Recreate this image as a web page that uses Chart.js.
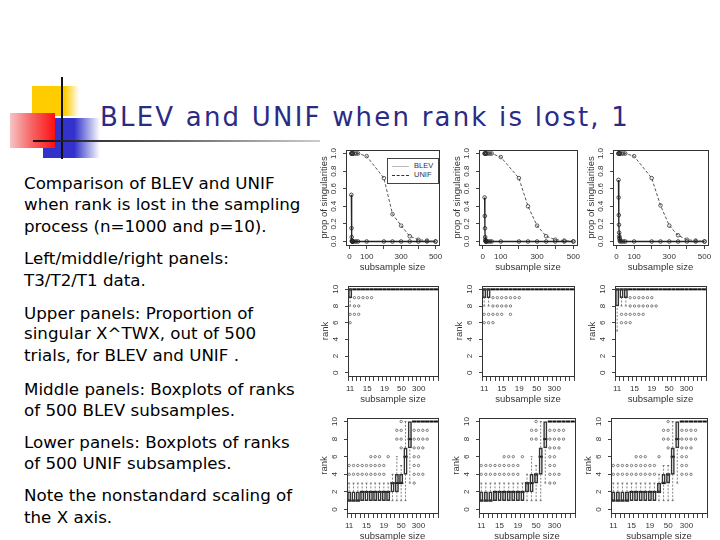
<!DOCTYPE html>
<html>
<head>
<meta charset="utf-8">
<script src="https://cdn.jsdelivr.net/npm/chart.js@4.4.0/dist/chart.umd.min.js"></script>
<style>
  body { margin:0; width:720px; height:540px; background:#fff; position:relative; overflow:hidden; font-family:"DejaVu Sans", sans-serif; }
  .deco { position:absolute; }
  .ttl { position:absolute; left:100px; top:102px; font-size:26px; line-height:30px; letter-spacing:2.2px; color:#2b2b84; white-space:nowrap; }
  .txt { position:absolute; left:24px; font-size:16.7px; line-height:20px; color:#000; white-space:nowrap; }
  .lgd { position:absolute; left:387px; top:158px; width:50px; height:24px; border:1px solid #444; background:#fff; font:7.5px "Liberation Sans", sans-serif; color:#333; }
  .lgd div { position:absolute; left:26px; }
  .lgd span { position:absolute; left:4px; width:17px; height:0; }
</style>
</head>
<body>

<div class="deco" style="left:32px;top:86px;width:47px;height:30px;background:linear-gradient(to right,#ffcc00 0%,#ffcc00 70%,rgba(255,204,0,0) 100%)"></div>
<div class="deco" style="left:43px;top:118px;width:57px;height:40px;background:linear-gradient(to right,#3333cc 0%,#3333cc 55%,rgba(51,51,204,0) 100%)"></div>
<div class="deco" style="left:10px;top:113px;width:45px;height:35px;background:linear-gradient(to right,#f7c4c4 0%,#f56a6a 45%,#ff1010 100%)"></div>
<div class="deco" style="left:61px;top:77px;width:2px;height:82px;background:#111"></div>
<div class="deco" style="left:33px;top:140px;width:287px;height:2px;background:linear-gradient(to right,#111 0%,#555 40%,#ccc 100%)"></div>

<div class="ttl">BLEV and UNIF when rank is lost, 1</div>

<div class="txt" style="top:173px">Comparison of BLEV and UNIF</div>
<div class="txt" style="top:194px">when rank is lost in the sampling</div>
<div class="txt" style="top:216px">process (n=1000 and p=10).</div>
<div class="txt" style="top:248px">Left/middle/right panels:</div>
<div class="txt" style="top:270px">T3/T2/T1 data.</div>
<div class="txt" style="top:303px">Upper panels: Proportion of</div>
<div class="txt" style="top:323px">singular X^TWX, out of 500</div>
<div class="txt" style="top:345px">trials, for BLEV and UNIF .</div>
<div class="txt" style="top:379px">Middle panels: Boxplots of ranks</div>
<div class="txt" style="top:400px">of 500 BLEV subsamples.</div>
<div class="txt" style="top:432px">Lower panels: Boxplots of ranks</div>
<div class="txt" style="top:453px">of 500 UNIF subsamples.</div>
<div class="txt" style="top:485px">Note the nonstandard scaling of</div>
<div class="txt" style="top:507px">the X axis.</div>

<div class="lgd">
  <span style="top:7px;border-top:1px solid #bbb"></span><div style="top:2px">BLEV</div>
  <span style="top:16px;border-top:1px dashed #333"></span><div style="top:11px">UNIF</div>
</div>

<script>
// subsample sizes (x axis of every panel)
const sizes = [11,12,13,14,15,16,17,18,19,20,30,40,50,100,200,250,300,350,400,450,500];
const sizeLabels = ['11','15','19','50','300'];      // labels R kept on the boxplot axes
const sizeTicks = [0,100,200,300,400,500];
const sizeTickLabels = ['0','100','300','500'];
const propTicks = [0,0.2,0.4,0.6,0.8,1];
const rankTicks = [0,2,4,6,8,10];

// upper panels: proportion of singular X^TWX
const blevT3Prop = [0.53,0.15,0.05,0.01,0,0,0,0,0,0,0,0,0,0,0,0,0,0,0,0,0];
const unifT3Prop = [1,1,1,1,1,1,1,1,1,1,1,1,1,0.97,0.72,0.31,0.18,0.06,0.02,0.01,0];
const blevT2Prop = [0.5,0.29,0.15,0.05,0.02,0.01,0,0,0,0,0,0,0,0,0,0,0,0,0,0,0];
const unifT2Prop = [1,1,1,1,1,1,1,1,1,1,1,1,1,0.96,0.72,0.4,0.18,0.06,0.02,0.01,0];
const blevT1Prop = [0.7,0.5,0.3,0.19,0.1,0.06,0.04,0.03,0.01,0,0,0,0,0,0,0,0,0,0,0,0];
const unifT1Prop = [1,1,1,1,1,1,1,1,1,1,1,1,1,0.97,0.72,0.41,0.18,0.07,0.02,0.01,0];

// middle panels: ranks of BLEV subsamples (box stats per size)
const blevT3Q1  = [9,10,10,10,10,10,10,10,10,10,10,10,10,10,10,10,10,10,10,10,10];
const blevT3Med = [10,10,10,10,10,10,10,10,10,10,10,10,10,10,10,10,10,10,10,10,10];
const blevT3Q3  = [10,10,10,10,10,10,10,10,10,10,10,10,10,10,10,10,10,10,10,10,10];
const blevT3Lo  = [8,10,10,10,10,10,10,10,10,10,10,10,10,10,10,10,10,10,10,10,10];
const blevT3Hi  = [10,10,10,10,10,10,10,10,10,10,10,10,10,10,10,10,10,10,10,10,10];
const blevT3Out = [[9,[1,2,3,4,5]],[8,[1,2]],[7,[0,1,2]],[6,[0]]];

const blevT2Q1  = [9,9,10,10,10,10,10,10,10,10,10,10,10,10,10,10,10,10,10,10,10];
const blevT2Med = [10,10,10,10,10,10,10,10,10,10,10,10,10,10,10,10,10,10,10,10,10];
const blevT2Q3  = [10,10,10,10,10,10,10,10,10,10,10,10,10,10,10,10,10,10,10,10,10];
const blevT2Lo  = [8,8,10,10,10,10,10,10,10,10,10,10,10,10,10,10,10,10,10,10,10];
const blevT2Hi  = [10,10,10,10,10,10,10,10,10,10,10,10,10,10,10,10,10,10,10,10,10];
const blevT2Out = [[9,[2,3,4,5,6,7,8]],[8,[2,3,4,5,6]],[7,[0,1,2,3,4,6]],[6,[0,1,2]]];

const blevT1Q1  = [8,9,9,10,10,10,10,10,10,10,10,10,10,10,10,10,10,10,10,10,10];
const blevT1Med = [10,10,10,10,10,10,10,10,10,10,10,10,10,10,10,10,10,10,10,10,10];
const blevT1Q3  = [10,10,10,10,10,10,10,10,10,10,10,10,10,10,10,10,10,10,10,10,10];
const blevT1Lo  = [5,8,8,10,10,10,10,10,10,10,10,10,10,10,10,10,10,10,10,10,10];
const blevT1Hi  = [10,10,10,10,10,10,10,10,10,10,10,10,10,10,10,10,10,10,10,10,10];
const blevT1Out = [[9,[3,4,5,6,7,8]],[8,[3,4,5,6,7,8,9]],[7,[1,2,3,4,5,6]],[6,[1,2,3]]];

// lower panels: ranks of UNIF subsamples
const unifT3Q1  = [1,1,1,1,1,1,1,1,1,1,2,2,3,4,7,10,10,10,10,10,10];
const unifT3Med = [1,1,1,2,2,2,2,2,2,2,3,3,3,6,8,10,10,10,10,10,10];
const unifT3Q3  = [2,2,2,2,2,2,2,2,2,2,3,4,4,7,10,10,10,10,10,10,10];
const unifT3Lo  = [1,1,1,1,1,1,1,1,1,1,1,1,1,1,3,10,10,10,10,10,10];
const unifT3Hi  = [3,3,3,3,3,3,3,3,3,3,4,6,5,10,10,10,10,10,10,10,10];
const unifT3Out = [[10,[12]],[9,[11,12,15,16,17,18]],[8,[11,12,15,16,17,18]],[7,[12,15,16,17]],
                   [6,[5,6,7,9,15,16]],[5,[0,1,2,3,4,5,6,7,8,15,16]],[4,[0,1,2,3,4,5,6,7,8,15,16,17]],[3,[15]]];

const unifT2Q1  = [1,1,1,1,1,1,1,1,1,1,2,2,3,4,7,10,10,10,10,10,10];
const unifT2Med = [1,1,1,2,2,2,2,2,2,2,3,3,4,6,8,10,10,10,10,10,10];
const unifT2Q3  = [2,2,2,2,2,2,2,2,2,2,3,4,4,7,10,10,10,10,10,10,10];
const unifT2Lo  = [1,1,1,1,1,1,1,1,1,1,1,1,1,1,3,10,10,10,10,10,10];
const unifT2Hi  = [3,3,3,3,3,3,3,3,3,3,4,6,5,10,10,10,10,10,10,10,10];
const unifT2Out = [[10,[12]],[9,[11,12,15,16,17,18]],[8,[11,12,15,16,17,18]],[7,[15,16,17]],
                   [6,[5,6,7,9,15,16]],[5,[0,1,2,3,4,5,6,7,8,15,16]],[4,[0,1,2,3,4,5,6,7,8,15,16,17]],[3,[15,16]]];

const unifT1Q1  = [1,1,1,1,1,1,1,1,1,1,2,3,3,4,7,10,10,10,10,10,10];
const unifT1Med = [1,1,1,1,2,2,2,2,2,2,2,3,4,6,8,10,10,10,10,10,10];
const unifT1Q3  = [2,2,2,2,2,2,2,2,2,2,3,4,4,7,10,10,10,10,10,10,10];
const unifT1Lo  = [1,1,1,1,1,1,1,1,1,1,1,1,1,1,3,10,10,10,10,10,10];
const unifT1Hi  = [3,3,3,3,3,3,3,3,3,3,4,5,5,10,10,10,10,10,10,10,10];
const unifT1Out = [[10,[12]],[9,[11,12,15,16,17,18]],[8,[11,12,15,16,17,18]],[7,[12,15,16,17]],
                   [6,[5,6,7,10,15,16]],[5,[0,1,2,3,4,5,6,7,8,9,15,16]],[4,[0,1,2,3,4,5,6,7,8,9,15,16,17]]];

const PAD_T = 6, PAD_R = 9;
const ink = '#333';
const tickFont = {family:'Liberation Sans', size:8};
const titleFont = {family:'Liberation Sans', size:9.5};

// box round the plot region + y labels written along the axis, like R does
const rFrame = {
  id: 'rFrame',
  afterDraw(chart, args, o) {
    const {ctx, chartArea: a} = chart;
    const ys = chart.scales.y;
    ctx.save();
    ctx.strokeStyle = ink;
    ctx.lineWidth = 1;
    ctx.strokeRect(Math.round(a.left) + 0.5, Math.round(a.top) + 0.5, Math.round(a.width), Math.round(a.height));
    ctx.fillStyle = ink;
    ctx.font = '8px "Liberation Sans"';
    ctx.textAlign = 'center';
    ctx.textBaseline = 'middle';
    ys.ticks.forEach(t => {
      ctx.save();
      ctx.translate(a.left - o.gap, ys.getPixelForValue(t.value));
      ctx.rotate(-Math.PI / 2);
      ctx.fillText(t.value.toFixed(o.dec), 0, 0);
      ctx.restore();
    });
    ctx.restore();
  }
};

function addCanvas(f, w, h) {
  const c = document.createElement('canvas');
  const cw = w + (f.r - f.l) + PAD_R, ch = PAD_T + (f.b - f.t) + h;
  c.width = cw; c.height = ch;
  c.style.cssText = `position:absolute;left:${f.l - w}px;top:${f.t - PAD_T}px;width:${cw}px;height:${ch}px`;
  document.body.appendChild(c);
  return c;
}

function xScale(min, max, ticks, cb, h, tl, pad) {
  return {
    type: 'linear', min, max, bounds: 'data', offset: false,
    afterBuildTicks: s => { s.ticks = ticks.map(v => ({value: v})); },
    afterFit: s => { s.height = h; },
    ticks: {font: tickFont, color: ink, padding: pad, maxRotation: 0, minRotation: 0, autoSkip: false, callback: cb},
    grid: {display: true, drawOnChartArea: false, drawTicks: true, tickLength: tl, color: '#444'},
    border: {display: false},
    title: {display: true, text: 'subsample size', font: titleFont, color: ink, padding: 0}
  };
}

function yScale(min, max, ticks, text, w) {
  return {
    type: 'linear', min, max, bounds: 'data',
    afterBuildTicks: s => { s.ticks = ticks.map(v => ({value: v})); },
    afterFit: s => { s.width = w; },
    ticks: {display: false},
    grid: {display: true, drawOnChartArea: false, drawTicks: true, tickLength: 3, color: '#444'},
    border: {display: false},
    title: {display: true, text, font: titleFont, color: ink, padding: 0}
  };
}

function baseOptions(dec) {
  return {
    responsive: false, animation: false, devicePixelRatio: 1, events: [],
    layout: {padding: {top: PAD_T, right: PAD_R, left: 0, bottom: 0}},
    plugins: {legend: {display: false}, tooltip: {enabled: false}, rFrame: {gap: 12, dec}}
  };
}

function propChart(f, blev, unif) {
  const c = addCanvas(f, 27, 28);
  const opts = baseOptions(1);
  opts.scales = {
    x: xScale(-20, 520, sizeTicks, v => sizeTickLabels.includes(String(v)) ? String(v) : '', 28, 4, 3),
    y: yScale(-0.04, 1.04, propTicks, 'prop of singularities', 27)
  };
  new Chart(c, {
    type: 'scatter',
    data: {datasets: [
      {data: sizes.map((s, i) => ({x: s, y: unif[i]})), showLine: true, borderColor: '#555', borderWidth: 1, borderDash: [3, 2],
       pointRadius: 1.8, pointBorderWidth: 0.8, pointBorderColor: '#333', pointBackgroundColor: 'rgba(0,0,0,0)'},
      {data: sizes.map((s, i) => ({x: s, y: blev[i]})), showLine: true, borderColor: '#222', borderWidth: 1.3,
       pointRadius: 1.8, pointBorderWidth: 0.8, pointBorderColor: '#222', pointBackgroundColor: 'rgba(0,0,0,0)'}
    ]},
    options: opts,
    plugins: [rFrame]
  });
}

function rankChart(f, q1, med, q3, lo, hi, out) {
  const c = addCanvas(f, 28, 29);
  const whisk = [], caps = [];
  sizes.forEach((s, i) => {
    if (lo[i] < q1[i]) { whisk.push({x: i, y: lo[i]}, {x: i, y: q1[i]}, {x: i, y: null}); caps.push({x: i, y: lo[i]}); }
    if (hi[i] > q3[i]) { whisk.push({x: i, y: q3[i]}, {x: i, y: hi[i]}, {x: i, y: null}); caps.push({x: i, y: hi[i]}); }
  });
  const pts = [];
  out.forEach(([v, idx]) => idx.forEach(i => pts.push({x: i, y: v})));
  const opts = baseOptions(0);
  opts.scales = {
    x: xScale(-0.5, 20.5, sizes.map((s, i) => i), v => sizeLabels.includes(String(sizes[v])) ? String(sizes[v]) : '', 29, 5, 3),
    y: yScale(-0.4, 10.4, rankTicks, 'rank', 28)
  };
  new Chart(c, {
    type: 'bar',
    data: {datasets: [
      {type: 'line', data: whisk, borderColor: '#666', borderWidth: 0.8, borderDash: [2, 1.5], pointRadius: 0, spanGaps: false},
      {type: 'scatter', data: caps, pointStyle: 'line', pointRadius: 1, pointBorderWidth: 0.8, pointBorderColor: '#555'},
      {type: 'bar', data: sizes.map((s, i) => ({x: i, y: [q1[i], q3[i]]})), backgroundColor: 'rgba(255,255,255,0)',
       borderColor: '#333', borderWidth: 0.9, borderSkipped: false, barThickness: 3.4},
      {type: 'scatter', data: sizes.map((s, i) => ({x: i, y: med[i]})), pointStyle: 'line', pointRadius: 2.1, pointBorderWidth: 2, pointBorderColor: '#111'},
      {type: 'scatter', data: pts, pointRadius: 1.2, pointBorderWidth: 0.6, pointBorderColor: '#333', pointBackgroundColor: 'rgba(0,0,0,0)'}
    ]},
    options: opts,
    plugins: [rFrame]
  });
}

propChart({l: 346, r: 439, t: 150, b: 245}, blevT3Prop, unifT3Prop);
propChart({l: 479, r: 577, t: 150, b: 245}, blevT2Prop, unifT2Prop);
propChart({l: 613, r: 708, t: 150, b: 245}, blevT1Prop, unifT1Prop);

rankChart({l: 348, r: 438, t: 286, b: 376}, blevT3Q1, blevT3Med, blevT3Q3, blevT3Lo, blevT3Hi, blevT3Out);
rankChart({l: 482, r: 574, t: 286, b: 376}, blevT2Q1, blevT2Med, blevT2Q3, blevT2Lo, blevT2Hi, blevT2Out);
rankChart({l: 615, r: 706, t: 286, b: 376}, blevT1Q1, blevT1Med, blevT1Q3, blevT1Lo, blevT1Hi, blevT1Out);

rankChart({l: 347, r: 438, t: 418, b: 513}, unifT3Q1, unifT3Med, unifT3Q3, unifT3Lo, unifT3Hi, unifT3Out);
rankChart({l: 479, r: 575, t: 418, b: 513}, unifT2Q1, unifT2Med, unifT2Q3, unifT2Lo, unifT2Hi, unifT2Out);
rankChart({l: 611, r: 707, t: 418, b: 513}, unifT1Q1, unifT1Med, unifT1Q3, unifT1Lo, unifT1Hi, unifT1Out);
</script>
</body>
</html>
